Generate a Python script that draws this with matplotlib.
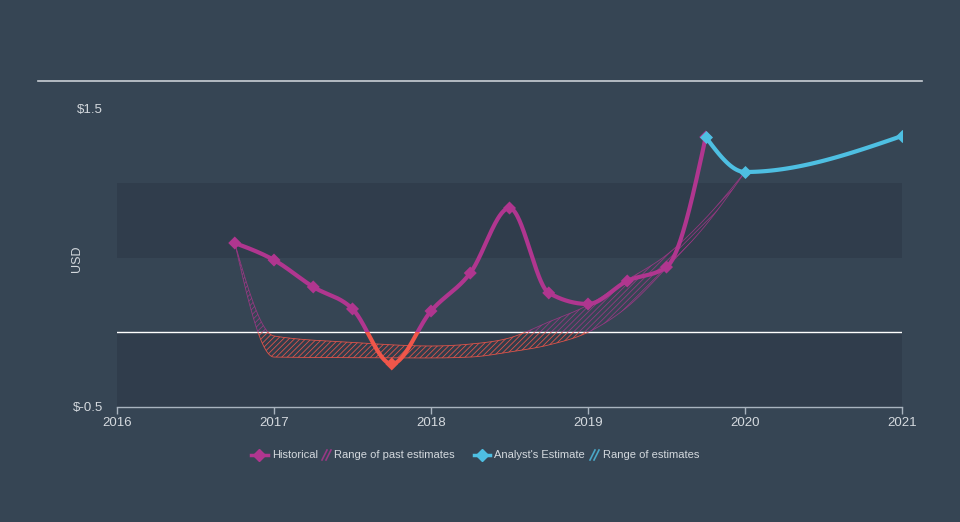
import numpy as np
import matplotlib
matplotlib.use("Agg")
import matplotlib.pyplot as plt
from matplotlib.lines import Line2D
from matplotlib.patches import Rectangle

plt.rcParams['font.family'] = ['Liberation Sans', 'DejaVu Sans']
plt.rcParams['hatch.linewidth'] = 0.6

# ---- data ----
hist_x = [2016.75, 2017.0, 2017.25, 2017.5, 2017.75, 2018.0, 2018.25, 2018.5,
          2018.75, 2019.0, 2019.25, 2019.5, 2019.75]
hist_y = [0.597, 0.483, 0.303, 0.156, -0.212, 0.142, 0.396, 0.831,
          0.263, 0.189, 0.343, 0.436, 1.306]
est_x = [2019.75, 2020.0, 2021.0]
est_y = [1.306, 1.072, 1.313]
past_x = [2016.75, 2017.0, 2017.5, 2018.0, 2018.25, 2018.5, 2018.75,
          2019.0, 2019.25, 2019.5, 2019.75, 2020.0]
past_upper = [0.597, -0.025, -0.068, -0.092, -0.079, -0.038, 0.069,
              0.182, 0.35, 0.517, 0.764, 1.072]
past_lower = [0.597, -0.166, -0.170, -0.172, -0.166, -0.132, -0.085,
              0.0, 0.169, 0.43, 0.717, 1.072]
x_ticks = [2016, 2017, 2018, 2019, 2020, 2021]
y_ticks = [-0.5, 1.5]
y_tick_labels = ["$-0.5", "$1.5"]

BG = "#364554"
BAND = "#303d4c"
MAG = "#b0368f"
RED = "#f0564a"
CYAN = "#4ebfe2"
TXT = "#d4d9de"


def monotone(x, y, n=60):
    x = np.asarray(x, float); y = np.asarray(y, float)
    h = np.diff(x); s = np.diff(y) / h
    m = len(x)
    t = np.zeros(m)
    for i in range(1, m - 1):
        h0, h1 = h[i - 1], h[i]
        s0, s1 = s[i - 1], s[i]
        p = (s0 * h1 + s1 * h0) / (h0 + h1)
        t[i] = (np.sign(s0) + np.sign(s1)) * min(abs(s0), abs(s1), 0.5 * abs(p))
    if m > 2:
        t[0] = (3 * s[0] - t[1]) / 2
        t[-1] = (3 * s[-1] - t[-2]) / 2
    else:
        t[0] = t[-1] = s[0]
    xs, ys = [], []
    for i in range(m - 1):
        u = np.linspace(0, 1, n, endpoint=(i == m - 2))
        hh = h[i]
        h00 = 2 * u**3 - 3 * u**2 + 1
        h10 = u**3 - 2 * u**2 + u
        h01 = -2 * u**3 + 3 * u**2
        h11 = u**3 - u**2
        xs.append(x[i] + u * hh)
        ys.append(h00 * y[i] + h10 * hh * t[i] + h01 * y[i + 1] + h11 * hh * t[i + 1])
    return np.concatenate(xs), np.concatenate(ys)


fig = plt.figure(figsize=(9.6, 5.22), dpi=100, facecolor=BG)
ax = fig.add_axes([117 / 960, (522 - 407) / 522, 785 / 960, 299 / 522])
ax.set_facecolor(BG)
ax.set_xlim(2016, 2021)
ax.set_ylim(-0.5, 1.5)

ax.axhspan(0.5, 1.0, color=BAND, lw=0, zorder=0)
ax.axhspan(-0.5, 0.0, color=BAND, lw=0, zorder=0)
ax.axhline(0, color="white", lw=1.0, zorder=1)

above = Rectangle((2015, 0), 10, 5, transform=ax.transData)
below = Rectangle((2015, -5), 10, 5, transform=ax.transData)

# range of past estimates
ux, uy = monotone(past_x, past_upper)
lx, ly = monotone(past_x, past_lower)
for col, clip, a in [(MAG, above, 0.75), (RED, below, 0.9)]:
    f = ax.fill_between(ux, ly, uy, facecolor="none", edgecolor=col, hatch="//////",
                        lw=0, alpha=a, zorder=2)
    f.set_clip_path(clip)
    for yy in (uy, ly):
        l, = ax.plot(ux, yy, color=col, lw=0.6, alpha=a, zorder=2)
        l.set_clip_path(clip)

# historical
hx, hy = monotone(hist_x, hist_y)
for col, clip in [(MAG, above), (RED, below)]:
    l, = ax.plot(hx, hy, color=col, lw=3, zorder=4, solid_capstyle="round")
    l.set_clip_path(clip)
hcols = [MAG if v >= 0 else RED for v in hist_y]
ax.scatter(hist_x, hist_y, marker="D", s=44, c=hcols, zorder=5, lw=0)

# analyst estimate
ex, ey = monotone(est_x, est_y)
ax.plot(ex, ey, color=CYAN, lw=3, zorder=4, solid_capstyle="round")
ax.scatter(est_x, est_y, marker="D", s=44, c=CYAN, zorder=6, lw=0)

# axes styling
for sp in ["top", "right", "left"]:
    ax.spines[sp].set_visible(False)
ax.spines["bottom"].set_color("#a9b4bf")
ax.spines["bottom"].set_linewidth(1)
ax.set_xticks(x_ticks)
ax.set_xticklabels([str(v) for v in x_ticks])
ax.tick_params(axis="x", colors="#a9b4bf", labelcolor=TXT, length=5, width=1,
               direction="out", labelsize=9.5, pad=2.5)
ax.set_yticks(y_ticks)
ax.set_yticklabels(y_tick_labels)
ax.tick_params(axis="y", length=0, labelcolor=TXT, labelsize=9.5, pad=10)
ax.set_ylabel("USD", color=TXT, fontsize=9)
ax.yaxis.set_label_coords(-34 / 785, 0.495)

# top rule
fig.add_artist(Line2D([38 / 960, 922 / 960], [1 - 81 / 522, 1 - 81 / 522],
                      color="#c9cfd5", lw=1.2))

# legend
ly_ = 1 - 455 / 522


def fx(px):
    return px / 960


def fy(py):
    return 1 - py / 522


def hatch_icon(x0, col):
    for dx in (0, 4):
        fig.add_artist(Line2D([fx(x0 + dx), fx(x0 + dx + 5)], [fy(460), fy(450)],
                              color=col, lw=1.2, alpha=0.8))


fig.add_artist(Line2D([fx(251), fx(268)], [ly_, ly_], color=MAG, lw=2.5))
fig.add_artist(Line2D([fx(259)], [ly_], marker="D", color=MAG, markersize=6.5, lw=0))
fig.text(fx(272), ly_, "Historical", color=TXT, fontsize=8, va="center")
hatch_icon(322, MAG)
fig.text(fx(334), ly_, "Range of past estimates", color=TXT, fontsize=8, va="center")

fig.add_artist(Line2D([fx(474), fx(490)], [ly_, ly_], color=CYAN, lw=2.5))
fig.add_artist(Line2D([fx(482)], [ly_], marker="D", color=CYAN, markersize=6.5, lw=0))
fig.text(fx(494), ly_, "Analyst's Estimate", color=TXT, fontsize=8, va="center")
hatch_icon(590, CYAN)
fig.text(fx(603), ly_, "Range of estimates", color=TXT, fontsize=8, va="center")

fig.savefig("out.png", dpi=100, facecolor=BG)
